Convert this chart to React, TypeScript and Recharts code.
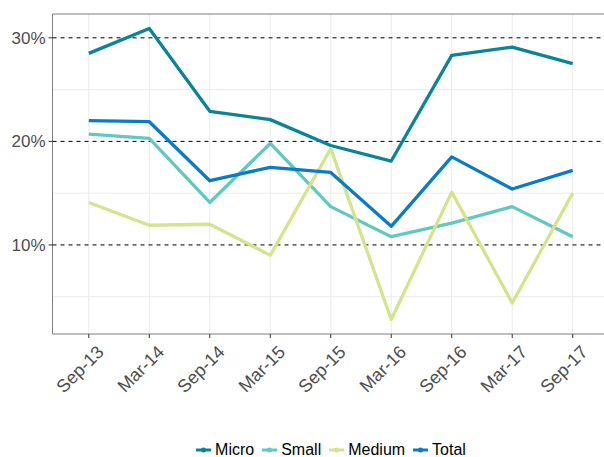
import React from 'react';
import { LineChart, Line, XAxis, YAxis, CartesianGrid, ReferenceLine, ReferenceArea } from 'recharts';

const periods = ['Sep-13', 'Mar-14', 'Sep-14', 'Mar-15', 'Sep-15', 'Mar-16', 'Sep-16', 'Mar-17', 'Sep-17'];
const micro = [28.5, 30.9, 22.9, 22.1, 19.6, 18.1, 28.3, 29.1, 27.5];
const small = [20.7, 20.3, 14.1, 19.8, 13.7, 10.8, 12.1, 13.7, 10.8];
const medium = [14.1, 11.9, 12.0, 9.0, 19.3, 2.8, 15.1, 4.4, 15.0];
const total = [22.0, 21.9, 16.2, 17.5, 17.0, 11.8, 18.5, 15.4, 17.2];

const yTicks = [10, 20, 30];
const minorY = [5, 15, 25];

const series = [
  { key: 'micro', name: 'Micro', color: '#0A8497' },
  { key: 'small', name: 'Small', color: '#62C9C2' },
  { key: 'medium', name: 'Medium', color: '#D4E48C' },
  { key: 'total', name: 'Total', color: '#0A7CC6' },
];

const data = periods.map((p, i) => ({
  idx: i,
  period: p,
  micro: micro[i],
  small: small[i],
  medium: medium[i],
  total: total[i],
}));

const FONT = '"Liberation Sans", Arial, sans-serif';

const XTick = (props: any) => {
  const { x, y, payload } = props;
  const ax = x + 7;
  const ay = y + 6;
  return (
    <g>
      <line x1={x} y1={y - 4} x2={x} y2={y} stroke="#333" />
      <text
        x={ax}
        y={ay}
        transform={`rotate(-45, ${ax}, ${ay})`}
        textAnchor="end"
        dominantBaseline="hanging"
        fontSize={18}
        fontFamily={FONT}
        fill="#4D4D4D"
      >
        {periods[payload.value]}
      </text>
    </g>
  );
};

function LegendRow() {
  return (
    <div
      style={{
        position: 'absolute',
        top: 441,
        left: 0,
        width: 668,
        display: 'flex',
        justifyContent: 'center',
        fontFamily: FONT,
        fontSize: 16,
        color: '#000',
      }}
    >
      {series.map(s => (
        <div key={s.key} style={{ display: 'flex', alignItems: 'center', marginRight: 7 }}>
          <svg width={17} height={18} style={{ marginRight: 3 }}>
            <line x1={1} y1={9} x2={16} y2={9} stroke={s.color} strokeWidth={3} />
            <circle cx={8.5} cy={9} r={2.5} fill={s.color} />
          </svg>
          <span>{s.name}</span>
        </div>
      ))}
    </div>
  );
}

export default function App() {
  return (
    <div style={{ position: 'absolute', left: 0, top: 0, width: 604, height: 457, overflow: 'hidden', background: '#fff' }}>
      <LineChart width={612} height={457} data={data} margin={{ top: 14, right: 3, bottom: 33, left: 0 }}>
        <CartesianGrid
          horizontalValues={minorY}
          verticalValues={periods.map((_, i) => i)}
          stroke="#EBEBEB"
          strokeWidth={1}
        />
        <XAxis
          dataKey="idx"
          type="number"
          domain={[-0.6, 8.6]}
          ticks={periods.map((_, i) => i)}
          interval={0}
          height={90}
          tick={<XTick />}
          tickSize={4}
          tickMargin={0}
          axisLine={false}
          tickLine={false}
          allowDataOverflow
        />
        <YAxis
          type="number"
          domain={[1.4, 32.3]}
          ticks={yTicks}
          tickFormatter={(v: number) => `${v}%`}
          width={52.5}
          tickSize={4}
          tickMargin={3}
          axisLine={false}
          tickLine={{ stroke: '#333' }}
          tick={{ fontSize: 17, fontFamily: FONT, fill: '#4D4D4D' }}
          allowDataOverflow
        />
        {yTicks.map(t => (
          <ReferenceLine key={t} y={t} stroke="#000" strokeDasharray="4 4" strokeWidth={1} />
        ))}
        <ReferenceArea
          x1={-0.6}
          x2={8.6}
          y1={1.4}
          y2={32.3}
          fill="none"
          stroke="#7F7F7F"
          strokeWidth={1}
          ifOverflow="visible"
        />
        {series.map(s => (
          <Line
            key={s.key}
            dataKey={s.key}
            name={s.name}
            stroke={s.color}
            strokeWidth={3.3}
            dot={false}
            isAnimationActive={false}
            strokeLinejoin="round"
          />
        ))}
      </LineChart>
      <LegendRow />
    </div>
  );
}
